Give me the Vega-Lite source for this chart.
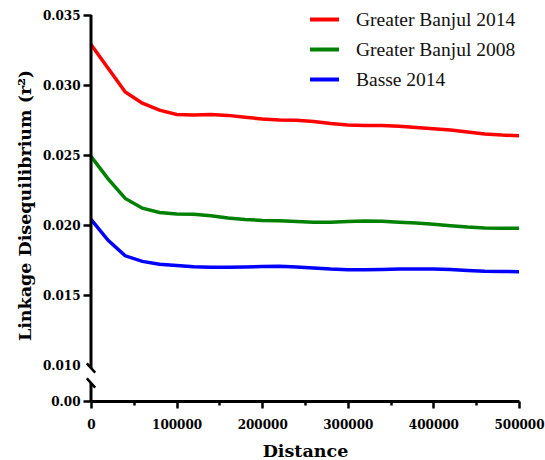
{
  "$schema": "https://vega.github.io/schema/vega-lite/v6.json",
  "width": 428,
  "height": 386,
  "autosize": {"type": "none"},
  "padding": {"left": 91, "top": 15, "right": 26, "bottom": 59},
  "background": "white",
  "config": {
    "view": {"stroke": null},
    "axis": {
      "labelFont": "DejaVu Serif",
      "labelFontWeight": "bold",
      "labelFontSize": 12,
      "labelColor": "black",
      "titleFont": "DejaVu Serif",
      "titleFontWeight": "bold",
      "titleFontSize": 17.5,
      "titleColor": "black",
      "tickColor": "black",
      "domainColor": "black",
      "grid": false
    },
    "legend": {
      "orient": "none",
      "legendX": 217,
      "legendY": -12,
      "padding": 0,
      "symbolType": "stroke",
      "symbolSize": 841,
      "symbolStrokeWidth": 4,
      "labelFont": "Liberation Serif",
      "labelFontSize": 19.5,
      "labelColor": "#111111",
      "labelOffset": 15,
      "rowPadding": 4,
      "title": null
    }
  },
  "datasets": {
    "ld": [
      {"distance": 0, "r2": 0.0329, "population": "Greater Banjul 2014"},
      {"distance": 20000, "r2": 0.0312, "population": "Greater Banjul 2014"},
      {"distance": 40000, "r2": 0.0295, "population": "Greater Banjul 2014"},
      {"distance": 60000, "r2": 0.0287, "population": "Greater Banjul 2014"},
      {"distance": 80000, "r2": 0.0282, "population": "Greater Banjul 2014"},
      {"distance": 100000, "r2": 0.0279, "population": "Greater Banjul 2014"},
      {"distance": 120000, "r2": 0.02785, "population": "Greater Banjul 2014"},
      {"distance": 140000, "r2": 0.0279, "population": "Greater Banjul 2014"},
      {"distance": 160000, "r2": 0.02783, "population": "Greater Banjul 2014"},
      {"distance": 180000, "r2": 0.0277, "population": "Greater Banjul 2014"},
      {"distance": 200000, "r2": 0.02757, "population": "Greater Banjul 2014"},
      {"distance": 220000, "r2": 0.0275, "population": "Greater Banjul 2014"},
      {"distance": 240000, "r2": 0.02748, "population": "Greater Banjul 2014"},
      {"distance": 260000, "r2": 0.0274, "population": "Greater Banjul 2014"},
      {"distance": 280000, "r2": 0.02725, "population": "Greater Banjul 2014"},
      {"distance": 300000, "r2": 0.02715, "population": "Greater Banjul 2014"},
      {"distance": 320000, "r2": 0.0271, "population": "Greater Banjul 2014"},
      {"distance": 340000, "r2": 0.0271, "population": "Greater Banjul 2014"},
      {"distance": 360000, "r2": 0.02705, "population": "Greater Banjul 2014"},
      {"distance": 380000, "r2": 0.02697, "population": "Greater Banjul 2014"},
      {"distance": 400000, "r2": 0.02688, "population": "Greater Banjul 2014"},
      {"distance": 420000, "r2": 0.02678, "population": "Greater Banjul 2014"},
      {"distance": 440000, "r2": 0.02665, "population": "Greater Banjul 2014"},
      {"distance": 460000, "r2": 0.0265, "population": "Greater Banjul 2014"},
      {"distance": 480000, "r2": 0.02642, "population": "Greater Banjul 2014"},
      {"distance": 500000, "r2": 0.02638, "population": "Greater Banjul 2014"},
      {"distance": 0, "r2": 0.0249, "population": "Greater Banjul 2008"},
      {"distance": 20000, "r2": 0.0233, "population": "Greater Banjul 2008"},
      {"distance": 40000, "r2": 0.0219, "population": "Greater Banjul 2008"},
      {"distance": 60000, "r2": 0.0212, "population": "Greater Banjul 2008"},
      {"distance": 80000, "r2": 0.0209, "population": "Greater Banjul 2008"},
      {"distance": 100000, "r2": 0.02078, "population": "Greater Banjul 2008"},
      {"distance": 120000, "r2": 0.02076, "population": "Greater Banjul 2008"},
      {"distance": 140000, "r2": 0.02066, "population": "Greater Banjul 2008"},
      {"distance": 160000, "r2": 0.0205, "population": "Greater Banjul 2008"},
      {"distance": 180000, "r2": 0.0204, "population": "Greater Banjul 2008"},
      {"distance": 200000, "r2": 0.02033, "population": "Greater Banjul 2008"},
      {"distance": 220000, "r2": 0.0203, "population": "Greater Banjul 2008"},
      {"distance": 240000, "r2": 0.02025, "population": "Greater Banjul 2008"},
      {"distance": 260000, "r2": 0.0202, "population": "Greater Banjul 2008"},
      {"distance": 280000, "r2": 0.0202, "population": "Greater Banjul 2008"},
      {"distance": 300000, "r2": 0.02025, "population": "Greater Banjul 2008"},
      {"distance": 320000, "r2": 0.02028, "population": "Greater Banjul 2008"},
      {"distance": 340000, "r2": 0.02027, "population": "Greater Banjul 2008"},
      {"distance": 360000, "r2": 0.0202, "population": "Greater Banjul 2008"},
      {"distance": 380000, "r2": 0.02015, "population": "Greater Banjul 2008"},
      {"distance": 400000, "r2": 0.02005, "population": "Greater Banjul 2008"},
      {"distance": 420000, "r2": 0.01995, "population": "Greater Banjul 2008"},
      {"distance": 440000, "r2": 0.01985, "population": "Greater Banjul 2008"},
      {"distance": 460000, "r2": 0.01978, "population": "Greater Banjul 2008"},
      {"distance": 480000, "r2": 0.01976, "population": "Greater Banjul 2008"},
      {"distance": 500000, "r2": 0.01976, "population": "Greater Banjul 2008"},
      {"distance": 0, "r2": 0.0204, "population": "Basse 2014"},
      {"distance": 20000, "r2": 0.0189, "population": "Basse 2014"},
      {"distance": 40000, "r2": 0.0178, "population": "Basse 2014"},
      {"distance": 60000, "r2": 0.0174, "population": "Basse 2014"},
      {"distance": 80000, "r2": 0.0172, "population": "Basse 2014"},
      {"distance": 100000, "r2": 0.0171, "population": "Basse 2014"},
      {"distance": 120000, "r2": 0.01702, "population": "Basse 2014"},
      {"distance": 140000, "r2": 0.01698, "population": "Basse 2014"},
      {"distance": 160000, "r2": 0.01698, "population": "Basse 2014"},
      {"distance": 180000, "r2": 0.017, "population": "Basse 2014"},
      {"distance": 200000, "r2": 0.01703, "population": "Basse 2014"},
      {"distance": 220000, "r2": 0.01705, "population": "Basse 2014"},
      {"distance": 240000, "r2": 0.017, "population": "Basse 2014"},
      {"distance": 260000, "r2": 0.01692, "population": "Basse 2014"},
      {"distance": 280000, "r2": 0.01685, "population": "Basse 2014"},
      {"distance": 300000, "r2": 0.01681, "population": "Basse 2014"},
      {"distance": 320000, "r2": 0.01681, "population": "Basse 2014"},
      {"distance": 340000, "r2": 0.01683, "population": "Basse 2014"},
      {"distance": 360000, "r2": 0.01685, "population": "Basse 2014"},
      {"distance": 380000, "r2": 0.01685, "population": "Basse 2014"},
      {"distance": 400000, "r2": 0.01685, "population": "Basse 2014"},
      {"distance": 420000, "r2": 0.01682, "population": "Basse 2014"},
      {"distance": 440000, "r2": 0.01675, "population": "Basse 2014"},
      {"distance": 460000, "r2": 0.0167, "population": "Basse 2014"},
      {"distance": 480000, "r2": 0.01668, "population": "Basse 2014"},
      {"distance": 500000, "r2": 0.01666, "population": "Basse 2014"}
    ],
    "axisSegments": [
      {"start": 0.00917, "end": 0.035},
      {"start": 0, "end": 0.005}
    ],
    "breakMarks": [
      {"at": 0.00917},
      {"at": 0.005}
    ]
  },
  "layer": [
    {
      "data": {"name": "ld"},
      "mark": {"type": "line", "strokeWidth": 3.5},
      "encoding": {
        "x": {
          "field": "distance",
          "type": "quantitative",
          "scale": {"domain": [0, 500000], "nice": false},
          "axis": {
            "title": "Distance",
            "values": [0, 50000, 100000, 150000, 200000, 250000, 300000, 350000, 400000, 450000, 500000],
            "labelExpr": "datum.value % 100000 === 0 ? format(datum.value, 'd') : ''",
            "tickSize": {"condition": {"test": "datum.value % 100000 !== 0", "value": 4}, "value": 7},
            "tickWidth": 2.5,
            "domainWidth": 3,
            "labelPadding": 11,
            "labelFlush": false,
            "labelOverlap": false,
            "titleX": 214,
            "titleY": 50,
            "titleBaseline": "middle",
            "titleAlign": "center"
          }
        },
        "y": {
          "field": "r2",
          "type": "quantitative",
          "scale": {"domain": [0, 0.01, 0.035], "range": [386, 350, 0], "nice": false, "zero": false},
          "axis": {
            "title": "Linkage Disequilibrium (r²)",
            "values": [0, 0.01, 0.015, 0.02, 0.025, 0.03, 0.035],
            "labelExpr": "datum.value === 0 ? '0.00' : format(datum.value, '.3f')",
            "domain": false,
            "tickSize": 8,
            "tickWidth": 2.5,
            "tickOpacity": {"condition": {"test": "datum.value === 0.01", "value": 0}, "value": 1},
            "labelPadding": 3,
            "labelOverlap": false,
            "titleX": -66,
            "titleY": 190,
            "titleAngle": -90,
            "titleBaseline": "middle",
            "titleAlign": "center"
          }
        },
        "color": {
          "field": "population",
          "type": "nominal",
          "scale": {
            "domain": ["Greater Banjul 2014", "Greater Banjul 2008", "Basse 2014"],
            "range": ["#ff0000", "#008000", "#0000ff"]
          },
          "legend": {}
        }
      }
    },
    {
      "data": {"name": "axisSegments"},
      "mark": {"type": "rule", "color": "black", "strokeWidth": 3},
      "encoding": {
        "x": {"datum": 0, "type": "quantitative"},
        "y": {"field": "start", "type": "quantitative"},
        "y2": {"field": "end"}
      }
    },
    {
      "data": {"name": "breakMarks"},
      "mark": {
        "type": "point",
        "shape": "M -0.7 -0.78 L 0.7 0.78",
        "size": 144,
        "stroke": "black",
        "strokeWidth": 2.5,
        "filled": false,
        "opacity": 1
      },
      "encoding": {
        "x": {"datum": 0, "type": "quantitative"},
        "y": {"field": "at", "type": "quantitative"}
      }
    }
  ]
}
